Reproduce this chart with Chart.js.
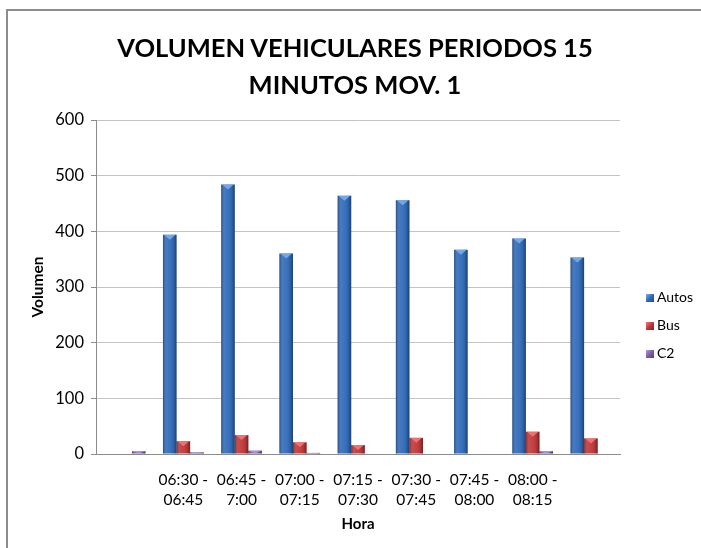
<!DOCTYPE html>
<html>
<head>
<meta charset="utf-8">
<script src="https://cdn.jsdelivr.net/npm/chart.js@4.4.1/dist/chart.umd.min.js"></script>
<style>
  html, body { margin: 0; padding: 0; background: #fff; }
  #wrap { position: relative; width: 701px; height: 548px; overflow: hidden; background: #fff; font-family: "Lato", "Liberation Sans", sans-serif; }
  #frame { position: absolute; left: 6px; top: 9px; width: 900px; height: 900px; border-left: 2px solid #8c8c8c; border-top: 2px solid #8c8c8c; box-sizing: border-box; }
  #title { position: absolute; left: 0; top: 29px; width: 710px; text-align: center; font-weight: bold; font-size: 25.5px; line-height: 37px; color: #000; }
  canvas { position: absolute; left: 0; top: 0; }
  #legend { position: absolute; left: 646px; top: 287px; font-size: 14px; color: #000; }
  .li { height: 28px; line-height: 20px; white-space: nowrap; }
  .sw { display: inline-block; width: 8px; height: 8px; margin-right: 3px; vertical-align: 0px; }
</style>
</head>
<body>
<div id="wrap">
  <div id="frame"></div>
  <canvas id="c" width="701" height="548"></canvas>
  <div id="title">VOLUMEN VEHICULARES PERIODOS 15<br>MINUTOS MOV. 1</div>
  <div id="legend"></div>
</div>
<script>
// ---- data ----
const categories = [
  '',
  ['06:30 -', '06:45'],
  ['06:45 -', '7:00'],
  ['07:00 -', '07:15'],
  ['07:15 -', '07:30'],
  ['07:30 -', '07:45'],
  ['07:45 -', '08:00'],
  ['08:00 -', '08:15'],
  ''
];
const autos = [0, 394, 484, 360, 464, 456, 367, 387, 353];
const bus   = [0, 23, 34, 21, 16, 29, 0, 40, 28];
const c2    = [5, 3, 6, 2, 0, 0, 0, 5, 0];
const yTicks = [0, 100, 200, 300, 400, 500, 600];
const seriesNames = ['Autos', 'Bus', 'C2'];

const colors = ['#316bb9', '#c0383a', '#7e5fa8'];
const dark = ['#1d4a86', '#8a2123', '#563f7c'];
const light = ['#7fb0ea', '#f27a7b', '#b49ad6'];

// bar shading plugin: uses the elements laid out by Chart.js
const shade = {
  id: 'shade',
  afterDatasetsDraw(chart) {
    const ctx = chart.ctx;
    chart.data.datasets.forEach((ds, di) => {
      const meta = chart.getDatasetMeta(di);
      meta.data.forEach(el => {
        const h = el.base - el.y;
        if (h <= 0.5) return;
        const l = el.x - el.width / 2, r = el.x + el.width / 2, w = el.width;
        ctx.save();
        const g = ctx.createLinearGradient(l, 0, r, 0);
        g.addColorStop(0, 'rgba(0,0,0,0.30)');
        g.addColorStop(0.25, 'rgba(255,255,255,0.10)');
        g.addColorStop(0.5, 'rgba(255,255,255,0.05)');
        g.addColorStop(0.8, 'rgba(0,0,0,0.10)');
        g.addColorStop(1, 'rgba(0,0,0,0.40)');
        ctx.fillStyle = g;
        ctx.fillRect(l, el.y, w, h);
        const capH = Math.min(h, 5);
        ctx.fillStyle = light[di];
        ctx.globalAlpha = 0.85;
        ctx.beginPath();
        ctx.moveTo(l + 1, el.y);
        ctx.lineTo(r - 1, el.y);
        ctx.lineTo(el.x, el.y + capH);
        ctx.closePath();
        ctx.fill();
        ctx.restore();
      });
    });
  }
};

const FONT = '"Lato", "Liberation Sans", sans-serif';
const padLeft = 25, padBottom = 11, padTop = 120, padRight = 81;
const plotLeft = 96, plotBottom = 454;

new Chart(document.getElementById('c'), {
  type: 'bar',
  data: {
    labels: categories,
    datasets: [
      { label: seriesNames[0], data: autos, backgroundColor: colors[0], borderWidth: 0 },
      { label: seriesNames[1], data: bus, backgroundColor: colors[1], borderWidth: 0 },
      { label: seriesNames[2], data: c2, backgroundColor: colors[2], borderWidth: 0 }
    ]
  },
  options: {
    responsive: false,
    animation: false,
    devicePixelRatio: 1,
    layout: { padding: { left: padLeft, right: padRight, top: padTop, bottom: padBottom } },
    plugins: { legend: { display: false }, title: { display: false }, tooltip: { enabled: false } },
    datasets: { bar: { categoryPercentage: 0.7, barPercentage: 1.0 } },
    scales: {
      x: {
        grid: { display: false },
        border: { display: true, color: '#8c8c8c', width: 1 },
        ticks: { color: '#000', font: { family: FONT, size: 15.5, lineHeight: 1.3 }, padding: 8, maxRotation: 0, autoSkip: false },
        title: { display: true, text: 'Hora', color: '#000', font: { family: FONT, size: 15, weight: 'bold' }, padding: { top: 4, bottom: 4 } },
        afterFit(scale) { scale.height = 548 - padBottom - plotBottom; }
      },
      y: {
        min: 0, max: 600,
        afterBuildTicks(scale) { scale.ticks = yTicks.map(v => ({ value: v })); },
        grid: { color: '#c4c4c4', lineWidth: 1, tickLength: 5, drawTicks: true, tickColor: '#8c8c8c' },
        border: { display: true, color: '#8c8c8c', width: 1 },
        ticks: { color: '#000', font: { family: FONT, size: 16.5 }, padding: 7 },
        title: { display: true, text: 'Volumen', color: '#000', font: { family: FONT, size: 15.5, weight: 'bold' }, padding: { top: 4, bottom: 4 } },
        afterFit(scale) { scale.width = plotLeft - padLeft; }
      }
    }
  },
  plugins: [shade]
});

// legend (HTML text)
const lg = document.getElementById('legend');
seriesNames.forEach((n, i) => {
  const d = document.createElement('div');
  d.className = 'li';
  d.innerHTML = '<span class="sw" style="background:linear-gradient(135deg,' + light[i] + ',' + colors[i] + ' 50%,' + dark[i] + ')"></span>' + n;
  lg.appendChild(d);
});
</script>
</body>
</html>
